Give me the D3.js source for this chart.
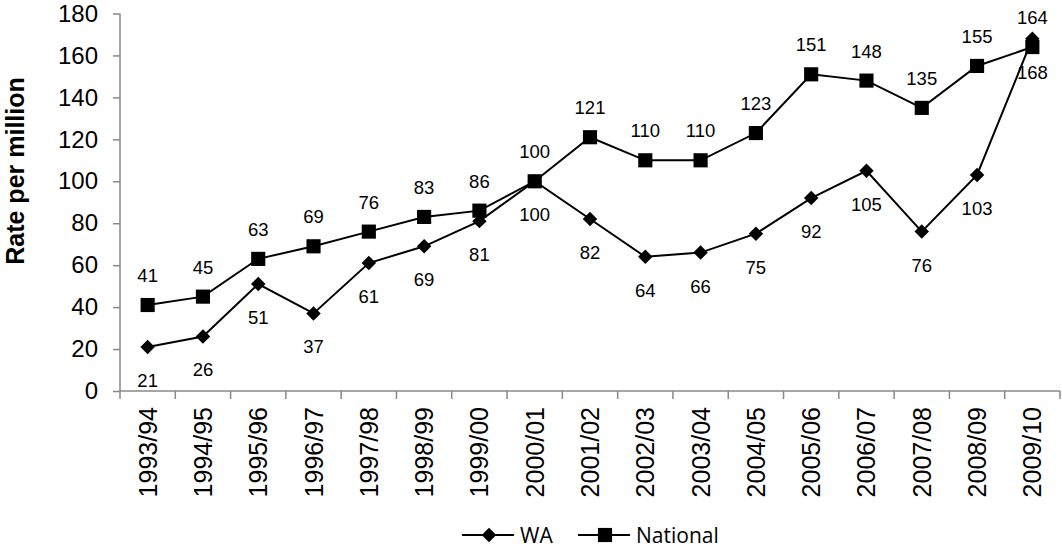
<!DOCTYPE html>
<html>
<head>
<meta charset="utf-8">
<script src="https://cdn.jsdelivr.net/npm/d3@7"></script>
<style>
  body { margin: 0; background: #fff; }
  text { font-family: "Liberation Sans", Arial, sans-serif; }
</style>
</head>
<body>
<div id="chart"></div>
<script>
const years = ["1993/94","1994/95","1995/96","1996/97","1997/98","1998/99","1999/00","2000/01",
  "2001/02","2002/03","2003/04","2004/05","2005/06","2006/07","2007/08","2008/09","2009/10"];
const wa = [21,26,51,37,61,69,81,100,82,64,66,75,92,105,76,103,168];
const national = [41,45,63,69,76,83,86,100,121,110,110,123,151,148,135,155,164];
const yTicks = [0,20,40,60,80,100,120,140,160,180];

const W = 1062, H = 553;
const margin = {top: 13.5, right: 2, bottom: 162, left: 120};
const width = W - margin.left - margin.right,
      height = H - margin.top - margin.bottom;

const svg = d3.select("#chart").append("svg")
  .attr("width", W).attr("height", H)
  .append("g")
  .attr("transform", "translate(" + margin.left + "," + margin.top + ")");

const x = d3.scaleBand().domain(years).range([0, width]).padding(0);
const y = d3.scaleLinear().domain([0, 180]).range([height, 0]);
const cx = d => x(d) + x.bandwidth() / 2;

// y axis
const yAxis = svg.append("g")
  .call(d3.axisLeft(y).tickValues(yTicks).tickSize(7).tickPadding(15));
yAxis.selectAll("text").style("font-size", "24px").attr("fill", "#000");
yAxis.selectAll("line,path").attr("stroke", "#888").attr("stroke-width", 1.5);
yAxis.select("path").attr("d", "M0," + y(180) + "V" + height);

// x axis
const xAxis = svg.append("g")
  .attr("transform", "translate(0," + height + ")")
  .call(d3.axisBottom(x).tickSize(0));
xAxis.select("path").attr("stroke", "#888").attr("stroke-width", 1.5)
  .attr("d", "M0,0H" + width);
xAxis.selectAll("text")
  .style("font-size", "25px").attr("fill", "#000")
  .attr("text-anchor", "end")
  .attr("transform", "rotate(-90)")
  .attr("x", -16).attr("y", 0).attr("dy", "0.36em");
svg.append("g").selectAll("line")
  .data(years.concat(["end"]))
  .enter().append("line")
  .attr("x1", (d, i) => i * x.bandwidth())
  .attr("x2", (d, i) => i * x.bandwidth())
  .attr("y1", height).attr("y2", height + 8)
  .attr("stroke", "#888").attr("stroke-width", 1.5);

// y title
svg.append("text")
  .text("Rate per million")
  .attr("transform", "translate(" + (-96) + "," + (171 - margin.top) + ")rotate(-90)")
  .attr("text-anchor", "middle")
  .style("font-size", "25px").style("font-weight", "bold");

const line = d3.line().x((d, i) => cx(years[i])).y(d => y(d));

// marker: square, or square turned 45deg for the diamond
function marker(shape) {
  return shape === "square"
    ? d3.symbol().type(d3.symbolSquare).size(200)()
    : d3.symbol().type(d3.symbolSquare).size(105)();
}
const rot = shape => shape === "square" ? "" : "rotate(45)";

function series(vals, shape, above) {
  svg.append("path").datum(vals)
    .attr("d", line).attr("fill", "none")
    .attr("stroke", "#000").attr("stroke-width", 2);
  svg.append("g").selectAll("path")
    .data(vals).enter().append("path")
    .attr("d", marker(shape))
    .attr("transform", (d, i) => "translate(" + cx(years[i]) + "," + y(d) + ")" + rot(shape))
    .attr("fill", "#000");
  svg.append("g").selectAll("text")
    .data(vals).enter().append("text")
    .text(d => d)
    .attr("x", (d, i) => cx(years[i]))
    .attr("y", d => y(d) + (above ? -23 : 40))
    .attr("text-anchor", "middle")
    .style("font-size", "18.5px");
}

series(wa, "diamond", false);
series(national, "square", true);

// legend
const lg = svg.append("g").attr("transform", "translate(0," + (535 - margin.top) + ")");
const items = [{name: "WA", shape: "diamond", x0: 462 - margin.left},
               {name: "National", shape: "square", x0: 578 - margin.left}];
items.forEach(it => {
  lg.append("line").attr("x1", it.x0).attr("x2", it.x0 + 52)
    .attr("y1", 0).attr("y2", 0).attr("stroke", "#000").attr("stroke-width", 2);
  lg.append("path")
    .attr("d", marker(it.shape))
    .attr("transform", "translate(" + (it.x0 + 27) + ",0)" + rot(it.shape))
    .attr("fill", "#000");
  lg.append("text").text(it.name)
    .attr("x", it.x0 + 58).attr("y", 0).attr("dy", "0.36em")
    .style("font-size", "21px").style("font-family", "'Open Sans', sans-serif");
});
</script>
</body>
</html>
